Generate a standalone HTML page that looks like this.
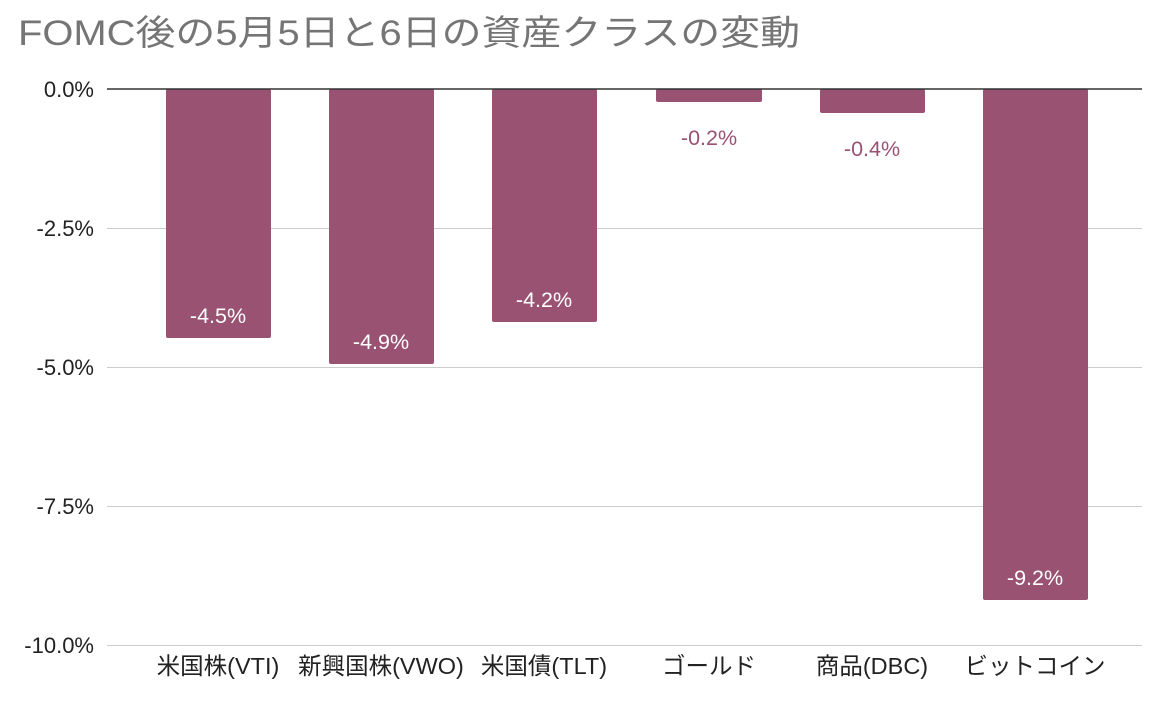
<!DOCTYPE html>
<html><head><meta charset="utf-8"><style>
body{margin:0;background:#fff;width:1162px;height:700px;overflow:hidden}
text{font-family:"Liberation Sans","Noto Sans CJK JP",sans-serif}
</style></head><body>
<svg width="1162" height="700" xmlns="http://www.w3.org/2000/svg">
<text x="18" y="45" font-size="35" fill="#757575" textLength="782" lengthAdjust="spacingAndGlyphs">FOMC後の5月5日と6日の資産クラスの変動</text>
<g stroke="#cccccc" stroke-width="1">
<line x1="107" x2="1142" y1="228.5" y2="228.5"/>
<line x1="107" x2="1142" y1="367.5" y2="367.5"/>
<line x1="107" x2="1142" y1="506.5" y2="506.5"/>
<line x1="107" x2="1142" y1="645.5" y2="645.5"/>
</g>
<g font-size="22" fill="#222" text-anchor="end">
<text x="94" y="97">0.0%</text>
<text x="94" y="236">-2.5%</text>
<text x="94" y="375">-5.0%</text>
<text x="94" y="514">-7.5%</text>
<text x="94" y="653">-10.0%</text>
</g>
<g fill="#9a5273">
<rect x="166" y="89" width="105" height="249" rx="2"/>
<rect x="329" y="89" width="105" height="275" rx="2"/>
<rect x="492" y="89" width="105" height="233" rx="2"/>
<rect x="656" y="89" width="106" height="13" rx="2"/>
<rect x="820" y="89" width="105" height="24" rx="2"/>
<rect x="983" y="89" width="105" height="511" rx="2"/>
</g>
<line x1="107" x2="1142" y1="89" y2="89" stroke="#333" stroke-width="1.5"/>
<g font-size="21.5" text-anchor="middle" fill="#fff">
<text x="218" y="323">-4.5%</text>
<text x="381" y="349">-4.9%</text>
<text x="544" y="307">-4.2%</text>
<text x="1035" y="585">-9.2%</text>
</g>
<g font-size="21.5" text-anchor="middle" fill="#9a5273">
<text x="709" y="145">-0.2%</text>
<text x="872" y="156">-0.4%</text>
</g>
<g font-size="23.5" text-anchor="middle" fill="#222">
<text x="218" y="674">米国株(VTI)</text>
<text x="381" y="674">新興国株(VWO)</text>
<text x="544" y="674">米国債(TLT)</text>
<text x="709" y="674">ゴールド</text>
<text x="872" y="674">商品(DBC)</text>
<text x="1035" y="674">ビットコイン</text>
</g>
</svg>
</body></html>
